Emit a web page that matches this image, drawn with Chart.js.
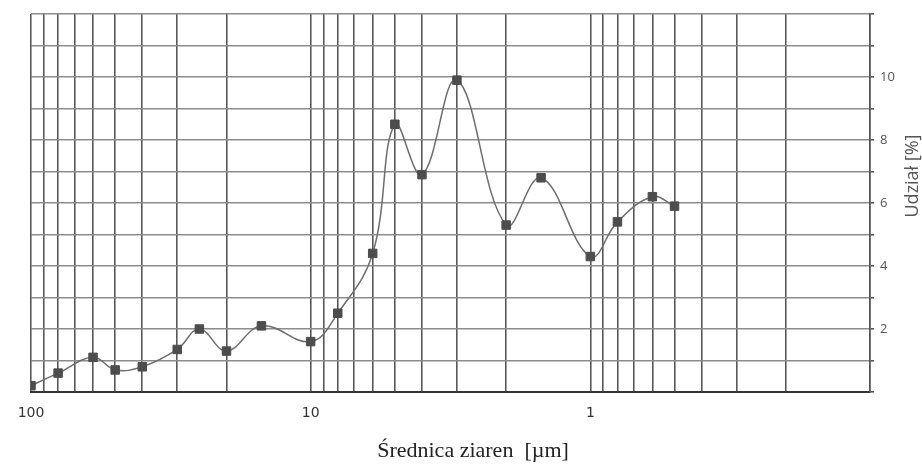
<!DOCTYPE html>
<html lang="pl">
<head>
<meta charset="utf-8">
<title>Udział frakcji ziarnowych</title>
<script src="https://cdn.jsdelivr.net/npm/chart.js@4"></script>
<style>
  html, body { margin: 0; padding: 0; background: #fff; }
  #wrap { width: 922px; height: 464px; position: relative; }
</style>
</head>
<body>
<div id="wrap"><canvas id="grainChart"></canvas></div>
<script>
// grain size [um] and share [%]
const grainSizes = [100, 80, 60, 50, 40, 30, 25, 20, 15, 10, 8, 6, 5, 4, 3, 2, 1.5, 1, 0.8, 0.6, 0.5];
const grainShares = [0.2, 0.6, 1.1, 0.7, 0.8, 1.35, 2.0, 1.3, 2.1, 1.6, 2.5, 4.4, 8.5, 6.9, 9.9, 5.3, 6.8, 4.3, 5.4, 6.2, 5.9];

// axis ticks
const xDecades = [0.1, 1, 10];
const xLabelTicks = [100, 10, 1];
const yLabelTicks = [2, 4, 6, 8, 10];

const xTitle = 'Średnica ziaren  [µm]';
const yTitle = 'Udział [%]';

// every 1..9 multiple of each decade, plus the top value -> vertical grid
const xGridTicks = [];
xDecades.forEach(d => {
    for (let m = 1; m <= 9; m++) xGridTicks.push(+(m * d).toFixed(1));
});
xGridTicks.push(100);

// axis titles drawn by hand (right title reads bottom -> top)
const axisTitles = {
    id: 'axisTitles',
    afterDraw(chart) {
        const ctx = chart.ctx;
        ctx.save();
        ctx.fillStyle = '#222';
        ctx.font = '22px "Liberation Serif", "DejaVu Serif", serif';
        ctx.textAlign = 'center';
        ctx.textBaseline = 'middle';
        ctx.fillText(xTitle, 473, 451);

        ctx.fillStyle = '#555';
        ctx.font = '18px "Open Sans", "Noto Sans", sans-serif';
        ctx.translate(913, 176);
        ctx.rotate(-Math.PI / 2);
        ctx.fillText(yTitle, 0, 0);
        ctx.restore();
    }
};

const ctx = document.getElementById('grainChart');
new Chart(ctx, {
    type: 'line',
    data: {
        datasets: [{
            data: grainSizes.map((s, i) => ({ x: s, y: grainShares[i] })),
            borderColor: '#6e6e6e',
            borderWidth: 1.5,
            tension: 0.4,
            pointStyle: 'rect',
            pointRadius: 6,
            pointBackgroundColor: '#4d4d4d',
            pointBorderColor: '#4d4d4d',
            pointBorderWidth: 1,
            fill: false
        }]
    },
    options: {
        responsive: true,
        maintainAspectRatio: false,
        animation: false,
        layout: { padding: { left: 31, top: 14, right: 0, bottom: 0 } },
        plugins: { legend: { display: false }, tooltip: { enabled: false } },
        scales: {
            x: {
                type: 'logarithmic',
                reverse: true,
                min: 0.1,
                max: 100,
                afterBuildTicks: (scale) => { scale.ticks = xGridTicks.map(v => ({ value: v })); },
                afterFit: (scale) => { scale.height = 72; },
                grid: { color: '#585858', lineWidth: 1.6, drawTicks: false },
                border: { display: true, color: '#333', width: 2 },
                ticks: {
                    autoSkip: false,
                    maxRotation: 0,
                    padding: 13,
                    color: '#333',
                    font: { family: '"DejaVu Sans", sans-serif', size: 14 },
                    callback: (v) => xLabelTicks.includes(v) ? String(v) : ''
                }
            },
            y: {
                position: 'right',
                min: 0,
                max: 12,
                afterFit: (scale) => { scale.width = 52; },
                grid: { color: '#8c8c8c', lineWidth: 1.6, tickLength: 4, tickColor: '#555' },
                border: { display: true, color: '#555', width: 1.5 },
                ticks: {
                    stepSize: 1,
                    padding: 6,
                    color: '#555',
                    font: { family: '"Open Sans", sans-serif', size: 13 },
                    callback: (v) => yLabelTicks.includes(v) ? String(v) : ''
                }
            }
        }
    },
    plugins: [axisTitles]
});
</script>
</body>
</html>
